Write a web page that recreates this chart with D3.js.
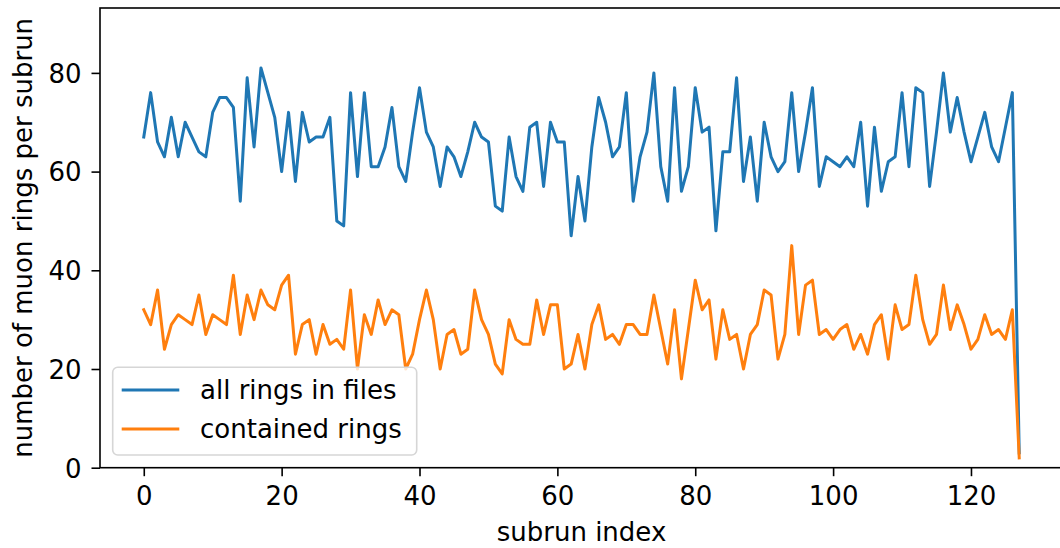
<!DOCTYPE html>
<html>
<head>
<meta charset="utf-8">
<script src="https://cdn.jsdelivr.net/npm/d3@7"></script>
<style>
    body { margin: 0; background: #fff; }
    text { font-family: "DejaVu Sans", sans-serif; }
</style>
</head>
<body>
<svg id="chart" width="1060" height="548"></svg>
<script>
// 每个subrun的环数
var allRings = [67, 76, 66, 63, 71, 63, 70, 67, 64, 63,
    72, 75, 75, 73, 54, 79, 65, 81, 76, 71,
    60, 72, 58, 72, 66, 67, 67, 71, 50, 49,
    76, 59, 76, 61, 61, 65, 73, 61, 58, 68,
    77, 68, 65, 57, 65, 63, 59, 64, 70, 67,
    66, 53, 52, 67, 59, 56, 69, 70, 57, 70,
    66, 66, 47, 59, 50, 65, 75, 70, 63, 65,
    76, 54, 63, 68, 80, 61, 54, 77, 56, 61,
    77, 68, 69, 48, 64, 64, 79, 58, 67, 54,
    70, 63, 60, 62, 76, 60, 68, 77, 57, 63,
    62, 61, 63, 61, 70, 53, 69, 56, 62, 63,
    76, 61, 77, 76, 57, 68, 80, 68, 75, 68,
    62, 67, 72, 65, 62, 69, 76, 3];
var containedRings = [32, 29, 36, 24, 29, 31, 30, 29, 35, 27,
    31, 30, 29, 39, 27, 35, 30, 36, 33, 32,
    37, 39, 23, 29, 30, 23, 29, 25, 26, 24,
    36, 20, 31, 27, 34, 29, 32, 31, 20, 23,
    30, 36, 30, 20, 27, 28, 23, 24, 36, 30,
    27, 21, 19, 30, 26, 25, 25, 34, 27, 33,
    33, 20, 21, 27, 20, 29, 33, 26, 27, 25,
    29, 29, 27, 27, 35, 28, 21, 32, 18, 28,
    38, 32, 34, 22, 32, 26, 27, 20, 27, 29,
    36, 35, 22, 27, 45, 27, 37, 38, 27, 28,
    26, 28, 29, 24, 27, 23, 29, 31, 22, 33,
    28, 29, 39, 30, 25, 27, 37, 28, 33, 29,
    24, 26, 31, 27, 28, 26, 32, 2];
var seriesNames = ["all rings in files", "contained rings"];
var xTicks = [0, 20, 40, 60, 80, 100, 120];
var yTicks = [0, 20, 40, 60, 80];

var ringChart = (function () {

    function draw() {
        var svg = d3.select("#chart");
        var left = 100, right = 1063, top = 8, bottom = 467.7;
        var colors = ["#1f77b4", "#ff7f0e"];
        var n = allRings.length;

        var x = d3.scaleLinear().domain([-0.05 * (n - 1), 1.05 * (n - 1)]).range([left, right]);
        var y = d3.scaleLinear().domain([0, 93.15]).range([bottom, top]);

        var line = d3.line()
            .x(function (d, i) { return x(i); })
            .y(function (d) { return y(d); });

        var plot = svg.append("g");
        [allRings, containedRings].forEach(function (arr, k) {
            plot.append("path")
                .datum(arr)
                .attr("d", line)
                .attr("fill", "none")
                .attr("stroke", colors[k])
                .attr("stroke-width", 3)
                .attr("stroke-linejoin", "round")
                .attr("stroke-linecap", "square");
        });

        // 坐标轴
        var xAxis = svg.append("g")
            .attr("transform", "translate(0," + bottom + ")")
            .call(d3.axisBottom(x).tickValues(xTicks).tickSize(8.5).tickPadding(10).tickSizeOuter(0));
        var yAxis = svg.append("g")
            .attr("transform", "translate(" + left + ",0)")
            .call(d3.axisLeft(y).tickValues(yTicks).tickSize(8.5).tickPadding(10).tickSizeOuter(0));
        [xAxis, yAxis].forEach(function (g) {
            g.select(".domain").remove();
            g.selectAll("line").attr("stroke", "#000").attr("stroke-width", 1.6);
            g.selectAll("text").attr("font-size", 26).attr("fill", "#000")
                .attr("font-family", "DejaVu Sans");
        });
        yAxis.selectAll("text").attr("dy", "0.36em");

        // 边框
        svg.append("rect")
            .attr("x", left).attr("y", top)
            .attr("width", right - left).attr("height", bottom - top)
            .attr("fill", "none").attr("stroke", "#000").attr("stroke-width", 1.6);

        svg.append("text")
            .attr("x", (left + right) / 2).attr("y", 541)
            .attr("text-anchor", "middle").attr("font-size", 26)
            .text("subrun index");
        svg.append("text")
            .attr("transform", "translate(32," + (top + bottom) / 2 + ") rotate(-90)")
            .attr("text-anchor", "middle").attr("font-size", 26)
            .text("number of muon rings per subrun");

        // 图例
        var legend = svg.append("g");
        legend.append("rect")
            .attr("x", 112.7).attr("y", 367.3)
            .attr("width", 304).attr("height", 87.7)
            .attr("rx", 5).attr("ry", 5)
            .attr("fill", "#fff").attr("fill-opacity", 0.8)
            .attr("stroke", "#d6d6d6").attr("stroke-width", 1.6);
        seriesNames.forEach(function (name, k) {
            var ly = 390 + k * 39;
            legend.append("line")
                .attr("x1", 121.7).attr("x2", 179.3)
                .attr("y1", ly).attr("y2", ly)
                .attr("stroke", colors[k]).attr("stroke-width", 3);
            legend.append("text")
                .attr("x", 200).attr("y", ly + 9.3)
                .attr("font-size", 26)
                .text(name);
        });
    }
    return {
        draw: draw
    }
})()

ringChart.draw();
</script>
</body>
</html>
